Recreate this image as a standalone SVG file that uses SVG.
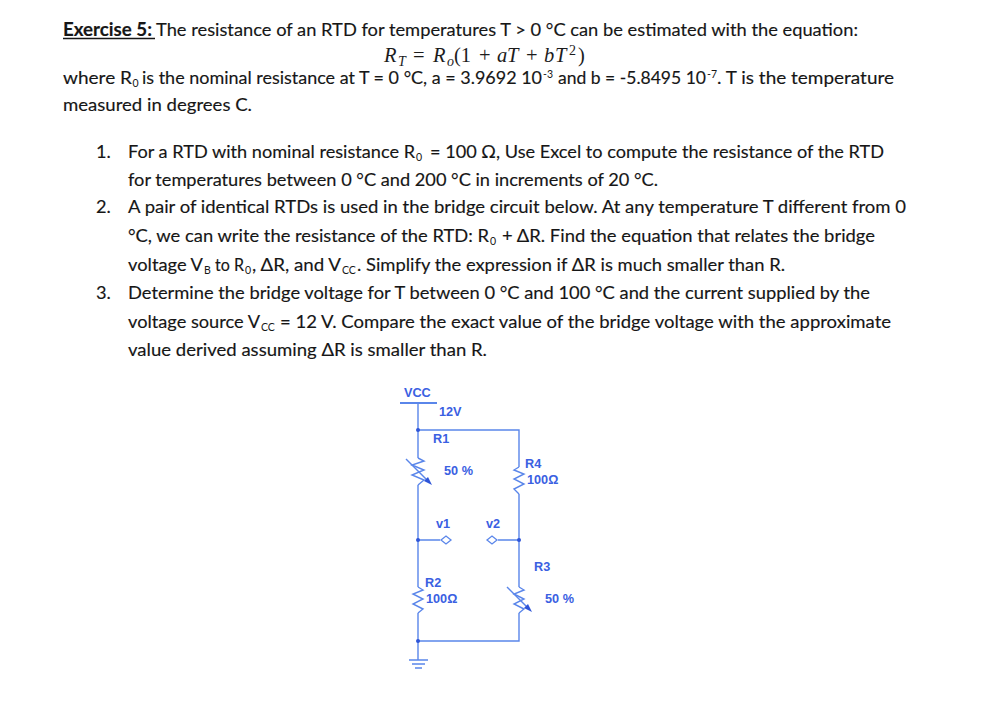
<svg xmlns="http://www.w3.org/2000/svg" width="989" height="717" viewBox="0 0 989 717">
<style>
.t{font-family:Lato,"Open Sans",sans-serif;font-size:18.2px;fill:#161616;stroke:#161616;stroke-width:.15}
.s{font-family:Lato,"Open Sans",sans-serif;font-size:10.5px;fill:#161616}
.m{font-family:"Liberation Serif",serif;font-size:20.5px;fill:#1c1c1c}
.i{font-style:italic}
.u{font-size:14px}
.l{font-family:"Liberation Sans",Arial,sans-serif;font-size:12.7px;font-weight:bold;fill:#3a60e2}
.w{fill:none;stroke:#5a86ea;stroke-width:1.4}
.d{fill:#2f55d8}
.p{fill:#fff;stroke:#5a86ea;stroke-width:1.3}
</style>
<rect width="989" height="717" fill="#fff"/>
<g id="text">
<text class="t" x="63" y="36" font-weight="bold" textLength="89" lengthAdjust="spacingAndGlyphs">Exercise 5:</text>
<path d="M63 38.5H155" stroke="#161616" stroke-width="1.6"/>
<text class="t" x="156" y="36" textLength="702" lengthAdjust="spacingAndGlyphs">The resistance of an RTD for temperatures T &gt; 0 °C can be estimated with the equation:</text>
<text class="m i" x="384" y="62">R</text><text class="m i u" x="398" y="66">T</text><text class="m" x="413" y="62">=</text>
<text class="m i" x="433" y="62">R</text><text class="m i u" x="447" y="66">o</text><text class="m" x="454" y="62">(1</text>
<text class="m" x="479" y="62">+</text><text class="m i" x="497" y="62">a</text><text class="m i" x="507" y="62">T</text>
<text class="m" x="526" y="62">+</text><text class="m i" x="544" y="62">b</text><text class="m i" x="555" y="62">T</text>
<text class="m u" x="569" y="55">2</text><text class="m" x="578" y="62">)</text>
<text class="t" x="63" y="84" textLength="69" lengthAdjust="spacingAndGlyphs">where R</text><text class="s" x="132.500" y="87">0</text>
<text class="t" x="142" y="84" textLength="400" lengthAdjust="spacingAndGlyphs">is the nominal resistance at T = 0 °C, a = 3.9692 10</text><text class="s" x="543" y="78">-3</text>
<text class="t" x="558" y="84" textLength="148" lengthAdjust="spacingAndGlyphs">and b = -5.8495 10</text><text class="s" x="707" y="78">-7</text>
<text class="t" x="717" y="84" textLength="177" lengthAdjust="spacingAndGlyphs">. T is the temperature</text>
<text class="t" x="63" y="111" textLength="189" lengthAdjust="spacingAndGlyphs">measured in degrees C.</text>
<text class="t" x="96" y="158">1.</text>
<text class="t" x="128" y="158" textLength="287" lengthAdjust="spacingAndGlyphs">For a RTD with nominal resistance R</text><text class="s" x="416" y="161">0</text>
<text class="t" x="430" y="158" textLength="454" lengthAdjust="spacingAndGlyphs">= 100 Ω, Use Excel to compute the resistance of the RTD</text>
<text class="t" x="128" y="186" textLength="530" lengthAdjust="spacingAndGlyphs">for temperatures between 0 °C and 200 °C in increments of 20 °C.</text>
<text class="t" x="96" y="213">2.</text>
<text class="t" x="128" y="213" textLength="778" lengthAdjust="spacingAndGlyphs">A pair of identical RTDs is used in the bridge circuit below. At any temperature T different from 0</text>
<text class="t" x="128" y="242" textLength="361" lengthAdjust="spacingAndGlyphs">°C, we can write the resistance of the RTD: R</text><text class="s" x="490" y="245">0</text>
<text class="t" x="502" y="242" textLength="373" lengthAdjust="spacingAndGlyphs">+ ΔR. Find the equation that relates the bridge</text>
<text class="t" x="128" y="271" textLength="75" lengthAdjust="spacingAndGlyphs">voltage V</text><text class="s" x="204" y="274">B</text>
<text class="t" x="215" y="271" textLength="29" lengthAdjust="spacingAndGlyphs">to R</text><text class="s" x="245" y="274">0</text>
<text class="t" x="252" y="271" textLength="89" lengthAdjust="spacingAndGlyphs">, ΔR, and V</text><text class="s" x="342" y="274">CC</text>
<text class="t" x="357" y="271" textLength="428" lengthAdjust="spacingAndGlyphs">. Simplify the expression if ΔR is much smaller than R.</text>
<text class="t" x="96" y="299">3.</text>
<text class="t" x="128" y="299" textLength="742" lengthAdjust="spacingAndGlyphs">Determine the bridge voltage for T between 0 °C and 100 °C and the current supplied by the</text>
<text class="t" x="128" y="328" textLength="132" lengthAdjust="spacingAndGlyphs">voltage source V</text><text class="s" x="261" y="331">CC</text>
<text class="t" x="280" y="328" textLength="611" lengthAdjust="spacingAndGlyphs">= 12 V. Compare the exact value of the bridge voltage with the approximate</text>
<text class="t" x="128" y="356" textLength="359" lengthAdjust="spacingAndGlyphs">value derived assuming ΔR is smaller than R.</text>
</g>
<g id="connectors">
<path class="w" d="M418 403V458M418 485V587M418 613V660M418 430H519V467M519 494V587M519 613V641H418M418 540H440M519 540H498"/>
</g>
<g id="VCC"><path class="w" d="M400 403H437" style="stroke-width:2"/><text class="l" x="404" y="397">VCC</text><text class="l" x="439" y="416">12V</text></g>
<g id="R1">
<circle class="d" cx="418" cy="430" r="2"/>
<path class="w" d="M418 458L424 461L412 465L424 470L412 475L424 480L418 485"/>
<path class="w" d="M406 459L429 482"/><path class="d" d="M432 485L424 481L428 477Z"/>
<text class="l" x="433" y="443">R1</text><text class="l" x="444" y="475">50 %</text>
</g>
<g id="R4">
<path class="w" d="M519 467L514 470L524 474L514 479L524 484L514 489L519 494"/>
<text class="l" x="525" y="468">R4</text><text class="l" x="527" y="484">100Ω</text>
</g>
<g id="v1"><circle class="d" cx="418" cy="540" r="2"/><path class="p" d="M441 540L446 536L451 540L446 544Z"/><text class="l" x="436" y="528">v1</text></g>
<g id="v2"><circle class="d" cx="519" cy="540" r="2"/><path class="p" d="M487 540L492 536L497 540L492 544Z"/><text class="l" x="486" y="528">v2</text></g>
<g id="R2">
<path class="w" d="M418 587L423 590L413 594L423 599L413 604L423 609L418 613"/>
<text class="l" x="425" y="587">R2</text><text class="l" x="426" y="603">100Ω</text>
</g>
<g id="R3">
<path class="w" d="M519 587L524 590L514 594L524 599L514 604L524 609L519 613"/>
<path class="w" d="M507 587L529 609"/><path class="d" d="M532 612L524 608L528 604Z"/>
<text class="l" x="534" y="571">R3</text><text class="l" x="545" y="603">50 %</text>
</g>
<g id="GND">
<circle class="d" cx="418" cy="641" r="2"/>
<path class="w" d="M409 660H428M412 664H425M415 668H422"/>
</g>
</svg>
